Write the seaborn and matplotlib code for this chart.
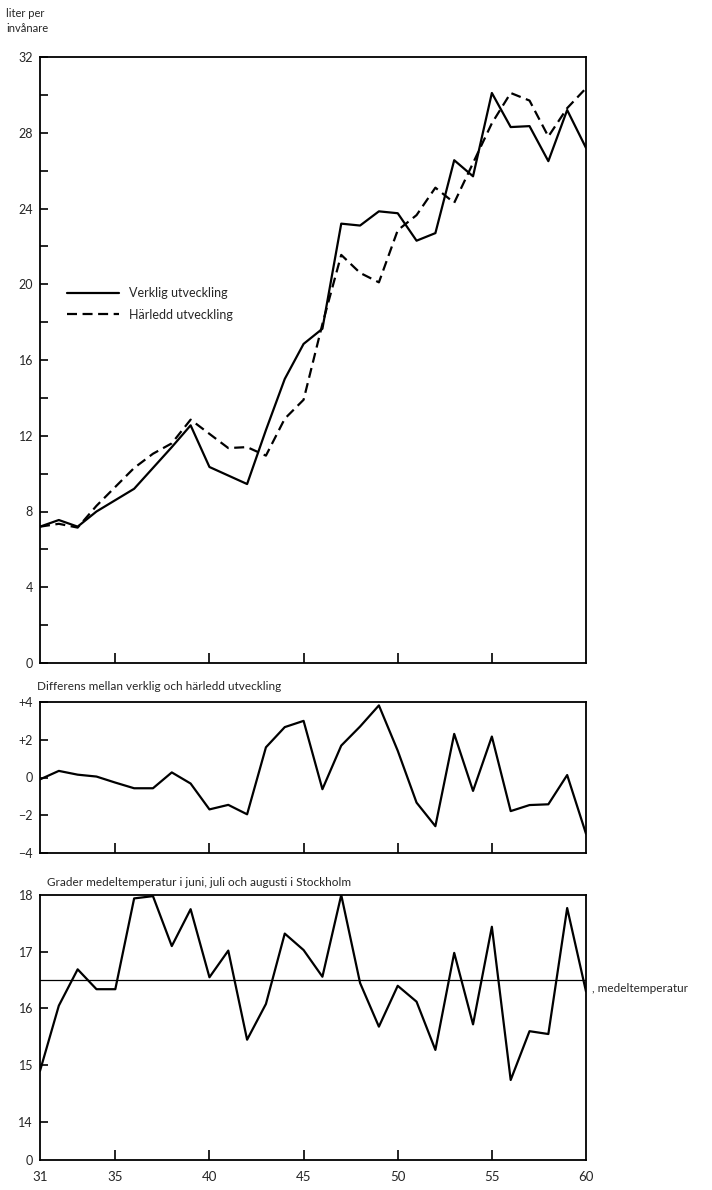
import matplotlib
matplotlib.use("Agg")
import matplotlib.pyplot as plt
import seaborn as sns
import pandas as pd
from matplotlib.lines import Line2D

# ---------------- data ----------------
years = list(range(31, 61))
verklig = [7.2, 7.55, 7.2, 8.0, 8.6, 9.2, 10.3, 11.4, 12.55, 10.35,
           9.9, 9.45, 12.3, 15.0, 16.85, 17.65, 23.2, 23.1, 23.85, 23.75,
           22.3, 22.7, 26.55, 25.7, 30.1, 28.3, 28.35, 26.5, 29.2, 27.2]
harledd = [7.2, 7.35, 7.15, 8.3, 9.3, 10.3, 11.05, 11.6, 12.85, 12.1,
           11.35, 11.4, 10.95, 12.9, 13.9, 17.9, 21.55, 20.6, 20.1, 22.85,
           23.65, 25.1, 24.3, 26.4, 28.5, 30.1, 29.7, 27.8, 29.3, 30.35]
differens = [-0.1, 0.35, 0.15, 0.05, -0.27, -0.57, -0.57, 0.27, -0.32, -1.69,
             -1.45, -1.95, 1.6, 2.67, 3.0, -0.62, 1.69, 2.7, 3.82, 1.42,
             -1.33, -2.58, 2.31, -0.71, 2.17, -1.78, -1.46, -1.42, 0.13, -2.98]
temperatur = [14.9, 16.05, 16.69, 16.34, 16.34, 17.94, 17.98, 17.1, 17.75, 16.55,
              17.02, 15.45, 16.08, 17.32, 17.03, 16.56, 18.0, 16.45, 15.68, 16.4,
              16.12, 15.27, 16.98, 15.72, 17.44, 14.74, 15.6, 15.55, 17.77, 16.3]
medeltemp = 16.5

x_ticks_labels = [31, 35, 40, 45, 50, 55, 60]
top_yticks = [0, 4, 8, 12, 16, 20, 24, 28, 32]
diff_yticks = [4, 2, 0, -2, -4]
diff_ylabels = ["+4", "+2", "0", "\u22122", "\u22124"]
temp_yticks = [13.33, 14, 15, 16, 17, 18]
temp_ylabels = ["0", "14", "15", "16", "17", "18"]

sns.set_style("white")
plt.rcParams["font.family"] = ["Lato", "DejaVu Sans"]
plt.rcParams["font.size"] = 8.5

fig = plt.figure(figsize=(7.12, 11.90), dpi=100)
W, H = 712, 1190

def axes_px(left, top, right, bottom):
    return fig.add_axes([left / W, 1 - bottom / H, (right - left) / W, (bottom - top) / H])

ax1 = axes_px(40, 57, 586, 663)
ax2 = axes_px(40, 702, 586, 853)
ax3 = axes_px(40, 895, 586, 1160)

LW = 1.6
DASH = (0, (4.5, 2.5))
df = pd.DataFrame({"year": years, "verklig": verklig, "harledd": harledd,
                   "differens": differens, "temperatur": temperatur})

sns.lineplot(data=df, x="year", y="verklig", ax=ax1, color="black", lw=LW)
sns.lineplot(data=df, x="year", y="harledd", ax=ax1, color="black", lw=LW,
             linestyle=DASH)
sns.lineplot(data=df, x="year", y="differens", ax=ax2, color="black", lw=LW)
sns.lineplot(data=df, x="year", y="temperatur", ax=ax3, color="black", lw=LW)
ax3.axhline(medeltemp, color="black", lw=0.9)

for ax in (ax1, ax2, ax3):
    ax.set_xlim(31, 60)
    ax.set_xlabel("")
    ax.set_ylabel("")
    for s in ax.spines.values():
        s.set_visible(True)
        s.set_color("black")
        s.set_linewidth(1.3)
    ax.set_xticks([35, 40, 45, 50, 55])
    ax.tick_params(axis="x", which="both", bottom=True, top=False,
                   direction="in", length=7, width=1.2, pad=6, color="black")
    ax.tick_params(axis="y", which="both", left=True, right=False,
                   direction="in", length=6, width=1.2, pad=5, labelsize=9,
                   color="black")
    ax.set_facecolor("white")

ax1.set_ylim(0, 32)
ax1.set_yticks(top_yticks)
ax1.set_yticks([2, 6, 10, 14, 18, 22, 26, 30], minor=True)
ax1.set_xticklabels([])

ax2.set_ylim(-4, 4)
ax2.set_yticks(diff_yticks)
ax2.set_yticklabels(diff_ylabels)
ax2.set_xticklabels([])

ax3.set_ylim(13.33, 18)
ax3.set_yticks(temp_yticks)
ax3.set_yticklabels(temp_ylabels)
ax3.set_xticks(x_ticks_labels)
ax3.set_xticklabels([str(v) for v in x_ticks_labels], fontsize=9.5)
ax3.tick_params(axis="x", direction="in", length=7, width=1.2, pad=8)
for t in ax3.xaxis.get_major_ticks():
    if t.get_loc() in (31, 60):
        t.tick1line.set_visible(False)
for t in ax3.yaxis.get_major_ticks():
    if t.get_loc() in (13.33, 18):
        t.tick1line.set_visible(False)
for t in ax1.yaxis.get_major_ticks():
    if t.get_loc() in (0, 32):
        t.tick1line.set_visible(False)

# legend
handles = [Line2D([], [], color="black", lw=LW),
           Line2D([], [], color="black", lw=LW, linestyle=DASH)]
ax1.legend(handles, ["Verklig utveckling", "Härledd utveckling"],
           loc="upper left", bbox_to_anchor=(0.04, 0.628), frameon=False,
           handlelength=4.2, handletextpad=0.8, labelspacing=0.75,
           borderaxespad=0, fontsize=9)

# texts
fig.text(6 / W, 1 - 8 / H, "liter per\ninvånare", ha="left", va="top",
         fontsize=8, linespacing=1.5)
fig.text(37 / W, 1 - 687 / H, "Differens mellan verklig och härledd utveckling",
         ha="left", va="center", fontsize=8.5)
fig.text(47 / W, 1 - 883 / H,
         "Grader medeltemperatur i juni, juli och augusti i Stockholm",
         ha="left", va="center", fontsize=8.5)
ax3.annotate(", medeltemperatur", xy=(60, medeltemp), xycoords="data",
             xytext=(4, -6), textcoords="offset points", ha="left", va="center",
             fontsize=8.5, annotation_clip=False)

fig.savefig("out.png", dpi=100, facecolor="white")
